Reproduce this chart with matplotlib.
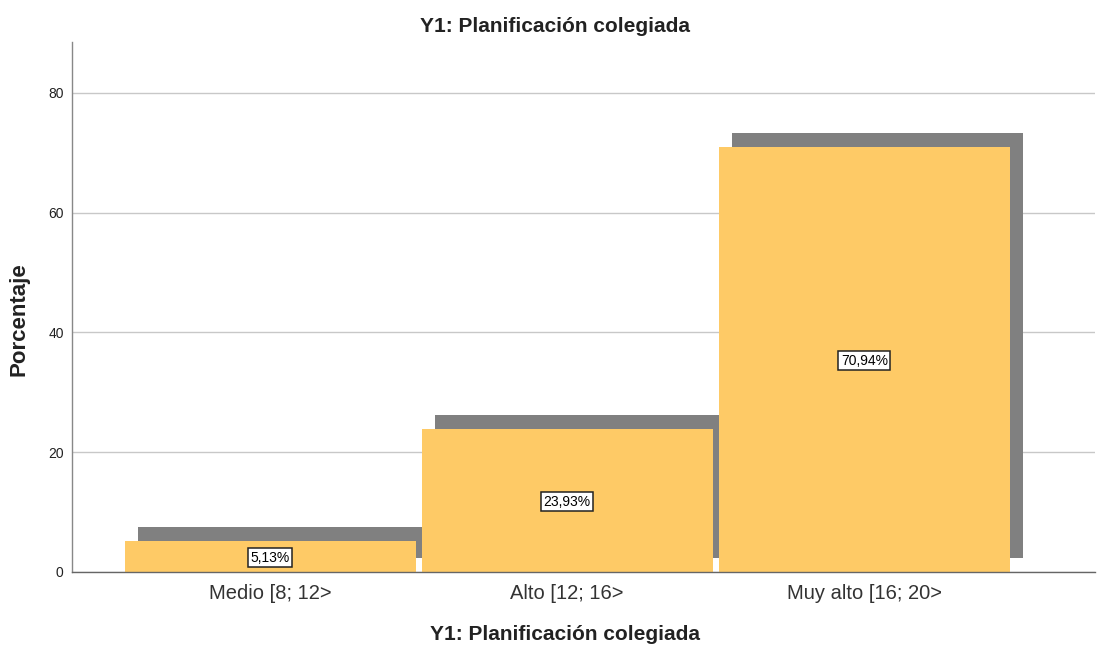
import matplotlib
matplotlib.use("Agg")
import matplotlib.pyplot as plt
import numpy as np

categories = ["Medio [8; 12>", "Alto [12; 16>", "Muy alto [16; 20>"]
values = [5.13, 23.93, 70.94]
labels = ["5,13%", "23,93%", "70,94%"]
yticks = [0, 20, 40, 60, 80]

plt.rcParams['font.family'] = ['Liberation Sans', 'DejaVu Sans']

fig = plt.figure(figsize=(11.05, 6.45), dpi=100)
ax = fig.add_axes([0.0652, 0.1132, 0.9258, 0.8217])

x = np.arange(len(categories))
width = 0.98
dx, dy = 0.046, 2.34

ax.set_axisbelow(True)
ax.yaxis.grid(True, color="#c8c8c8", linewidth=1.0)
# shadows
ax.bar(x + dx, values, width=width, bottom=dy, color="#808080", zorder=2)
# bars
ax.bar(x, values, width=width, color="#FECA66", zorder=3)

for xi, v, lab in zip(x, values, labels):
    ax.text(xi, v / 2 - 0.2, lab, ha="center", va="center", fontsize=10,
            color="black", zorder=5,
            bbox=dict(boxstyle="square,pad=0.18", facecolor="white",
                      edgecolor="#222222", linewidth=1.1))

ax.set_xlim(-0.667, 2.777)
ax.set_ylim(0, 88.5)
ax.set_yticks(yticks)
ax.set_yticklabels([str(t) for t in yticks], fontsize=10, color="#222222")
ax.set_xticks(x)
ax.set_xticklabels(categories, fontsize=14.5, color="#333333")
ax.tick_params(axis="both", length=0)
ax.tick_params(axis="y", pad=6)
ax.tick_params(axis="x", pad=9)

for s in ["top", "right"]:
    ax.spines[s].set_visible(False)
ax.spines["left"].set_color("#888888")
ax.spines["bottom"].set_color("#666666")
ax.spines["left"].set_linewidth(1.0)
ax.spines["bottom"].set_linewidth(1.0)
ax.spines["bottom"].set_zorder(4)

fig.text(0.5027, (645 - 31.7) / 645, "Y1: Planificación colegiada", ha="center",
         va="baseline", fontsize=15, fontweight="bold", color="#222222")
fig.text(0.0172, 0.506, "Porcentaje", ha="center", va="center", rotation=90,
         fontsize=16, fontweight="bold", color="#222222")
fig.text(0.5113, 1.5 / 645, "Y1: Planificación colegiada", ha="center",
         va="bottom", fontsize=15, fontweight="bold", color="#222222")

fig.savefig("out.png", dpi=100)
